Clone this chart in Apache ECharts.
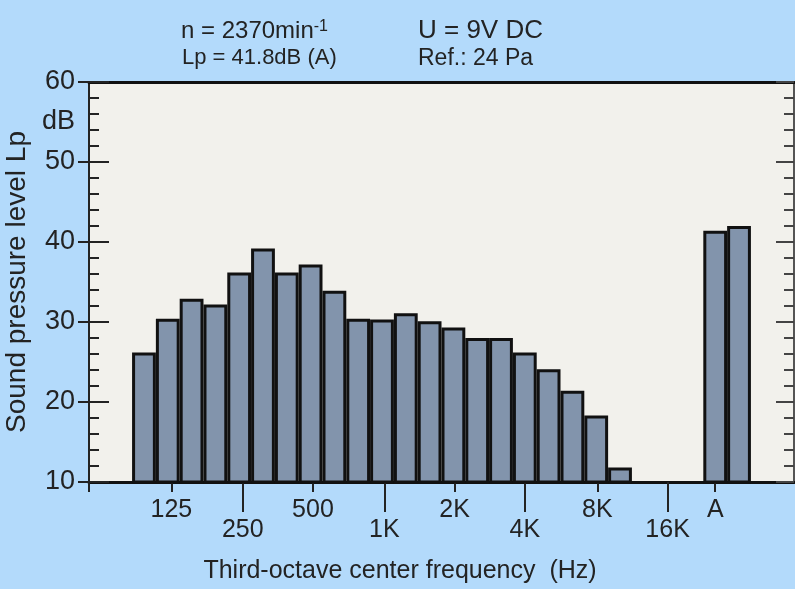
<!DOCTYPE html>
<html>
<head>
<meta charset="utf-8">
<script src="https://cdn.jsdelivr.net/npm/echarts@6/dist/echarts.min.js"></script>
<style>
  html, body { margin: 0; padding: 0; background: #b3dafb; }
  #chart { width: 795px; height: 589px; }
</style>
</head>
<body>
<div id="chart"></div>
<script>
// third-octave bands, one slot per band (slot i spans [i, i+1] on the x axis)
const bands = ['100', '125', '160', '200', '250', '315', '400', '500', '630', '800',
  '1K', '1.25K', '1.6K', '2K', '2.5K', '3.15K', '4K', '5K', '6.3K', '8K', '10K']
const levels = [26.2, 30.4, 32.9, 32.2, 36.2, 39.2, 36.2, 37.2, 33.9, 30.4,
  30.3, 31.1, 30.1, 29.3, 28.0, 28.0, 26.2, 24.1, 21.4, 18.3, 11.8]
// the two A-weighted bars after the gap (12.5K, 16K, 20K are empty)
const aSlots = [24, 25]
const aLevels = [41.4, 42.0]

// tick marks under the axis: upper row (short ticks) and lower row (long ticks)
const upperTicks = [1.65, 7.6, 13.55, 19.55, 24.5]
const upperLabels = ['125', '500', '2K', '8K', 'A']
const lowerTicks = [4.65, 10.6, 16.5, 22.5]
const lowerLabels = ['250', '1K', '4K', '16K']

const yTicks = [10, 20, 30, 40, 50, 60]
const yLabelVals = [10, 20, 30, 40, 50, 55, 60]

const XMIN = -1.81
const XMAX = 27.81
const ink = '#232323'
const font = 'Liberation Sans'

const barData = bands.map((b, i) => [i + 0.5, levels[i]])
  .concat(aSlots.map((s, k) => [s + 0.5, aLevels[k]]))

function pick(ticks, labels) {
  return v => {
    let best = 0
    ticks.forEach((t, i) => { if (Math.abs(t - v) < Math.abs(ticks[best] - v)) best = i })
    return labels[best]
  }
}

const chart = echarts.init(document.getElementById('chart'), null, { renderer: 'canvas' })

chart.setOption({
  animation: false,
  backgroundColor: '#b3dafb',
  grid: {
    left: 89, right: 1, top: 82, bottom: 107,
    show: true, backgroundColor: '#f2f1ec', borderWidth: 0,
    containLabel: false, outerBoundsMode: 'none'
  },
  xAxis: [
    {
      type: 'value', min: XMIN, max: XMAX, position: 'bottom',
      splitLine: { show: false },
      axisLine: { show: true, onZero: false, lineStyle: { color: '#111', width: 3 } },
      axisTick: { show: true, customValues: [XMIN].concat(upperTicks), length: 10, lineStyle: { color: ink, width: 2 } },
      axisLabel: { show: true, customValues: upperTicks, formatter: pick(upperTicks, upperLabels),
        margin: 16, fontSize: 25, color: ink, fontFamily: font }
    },
    {
      type: 'value', min: XMIN, max: XMAX, position: 'bottom',
      splitLine: { show: false },
      axisLine: { show: false, onZero: false },
      axisTick: { show: true, customValues: lowerTicks, length: 30, lineStyle: { color: ink, width: 2 } },
      axisLabel: { show: true, customValues: lowerTicks, formatter: pick(lowerTicks, lowerLabels),
        margin: 36, fontSize: 25, color: ink, fontFamily: font }
    },
    {
      type: 'value', min: XMIN, max: XMAX, position: 'top',
      splitLine: { show: false },
      axisLine: { show: true, onZero: false, lineStyle: { color: '#111', width: 3 } },
      axisTick: { show: false }, axisLabel: { show: false }
    }
  ],
  yAxis: [
    {
      type: 'value', min: 10, max: 60, interval: 10, position: 'left',
      splitLine: { show: false },
      axisLine: { show: true, onZero: false, lineStyle: { color: ink, width: 2 } },
      axisTick: { show: true, inside: true, length: 20, lineStyle: { color: ink, width: 2 } },
      minorTick: { show: true, splitNumber: 5, length: 10, lineStyle: { color: ink, width: 2 } },
      axisLabel: { show: false }
    },
    {
      type: 'value', min: 10, max: 60, position: 'left',
      splitLine: { show: false },
      axisLine: { show: false, onZero: false },
      axisTick: { show: true, customValues: yTicks, length: 11, lineStyle: { color: ink, width: 2 } },
      axisLabel: { show: true, customValues: yLabelVals, formatter: v => v === 55 ? 'dB' : String(v),
        margin: 14, fontSize: 27, color: ink, fontFamily: font },
      name: 'Sound pressure level Lp', nameLocation: 'middle', nameRotate: 90, nameGap: 53,
      nameTextStyle: { fontSize: 28, color: ink, fontFamily: font }
    },
    {
      type: 'value', min: 10, max: 60, interval: 10, position: 'right',
      splitLine: { show: false },
      axisLine: { show: true, onZero: false, lineStyle: { color: '#555', width: 2 } },
      axisTick: { show: true, inside: true, length: 18, lineStyle: { color: '#444', width: 2 } },
      minorTick: { show: true, splitNumber: 5, length: 10, lineStyle: { color: '#444', width: 2 } },
      axisLabel: { show: false }
    }
  ],
  series: [{
    type: 'bar',
    xAxisIndex: 0, yAxisIndex: 0,
    data: barData,
    barWidth: '100%',
    itemStyle: { color: '#8294ac', borderColor: '#111', borderWidth: 3 }
  }],
  graphic: [
    { type: 'text', x: 181, y: 31, style: {
      text: 'n = 2370min{s|-1}', align: 'left', verticalAlign: 'middle',
      fontSize: 24, fontFamily: font, fill: ink,
      rich: { s: { fontSize: 16, verticalAlign: 'top', fontFamily: font, fill: ink } } } },
    { type: 'text', x: 182, y: 58, style: {
      text: 'Lp = 41.8dB (A)', align: 'left', verticalAlign: 'middle',
      fontSize: 22, fontFamily: font, fill: ink } },
    { type: 'text', x: 418, y: 31, style: {
      text: 'U = 9V DC', align: 'left', verticalAlign: 'middle',
      fontSize: 26, fontFamily: font, fill: ink } },
    { type: 'text', x: 418, y: 59, style: {
      text: 'Ref.: 24 Pa', align: 'left', verticalAlign: 'middle',
      fontSize: 23, fontFamily: font, fill: ink } },
    { type: 'text', x: 400, y: 571, style: {
      text: 'Third-octave center frequency  (Hz)', align: 'center', verticalAlign: 'middle',
      fontSize: 25, fontFamily: font, fill: ink } }
  ]
})
</script>
</body>
</html>
